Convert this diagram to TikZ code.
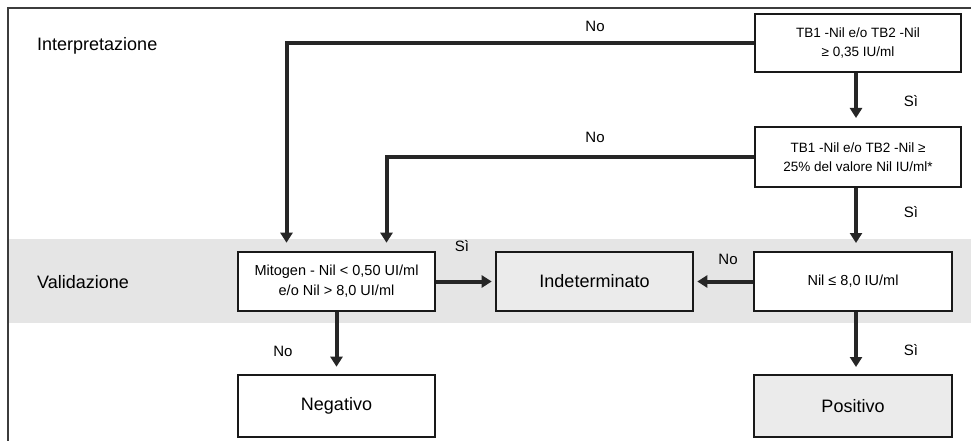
\documentclass[tikz,border=0pt]{standalone}
\usepackage{fontspec}
\setmainfont{Liberation Sans}
\usetikzlibrary{arrows.meta}
\definecolor{band}{RGB}{229,229,229}
\definecolor{boxgray}{RGB}{235,235,235}
\definecolor{frame}{RGB}{60,60,60}
\begin{document}
\begin{tikzpicture}[x=1pt,y=-1pt,
  box/.style={draw=black!90, line width=2.6pt, fill=white, inner sep=0pt, align=center, font=\fontsize{13.5}{19}\selectfont},
  mid/.style={font=\fontsize{14.5}{20}\selectfont},
  big/.style={font=\fontsize{18}{20}\selectfont},
  arr/.style={line width=4pt, draw=black!85, -{Triangle[length=10pt,width=12pt]}},
  lbl/.style={font=\fontsize{15}{17}\selectfont, inner sep=1pt},
  sec/.style={font=\fontsize{18}{20}\selectfont, anchor=west, inner sep=0pt}]
\useasboundingbox (0,0) rectangle (971,441);
\fill[white] (0,0) rectangle (971,441);
\fill[band] (8,239) rectangle (971,323);
\draw[frame, line width=1.8pt] (8,441) -- (8,8) -- (971,8);

\node[sec] (interp) at (37,46) {Interpretazione};
\node[sec] (valid) at (37,282) {Validazione};

\node[box, minimum width=206pt, minimum height=58pt] (b1) at (858,43) {TB1 -Nil e/o TB2 -Nil\\≥ 0,35 IU/ml};
\node[box, minimum width=206pt, minimum height=60pt] (b2) at (858,157) {TB1 -Nil e/o TB2 -Nil ≥\\25\% del valore Nil IU/ml*};
\node[box, mid, minimum width=198pt, minimum height=59pt] (b3) at (853,281.5) {Nil ≤ 8,0 IU/ml};
\node[box, fill=boxgray, big, minimum width=197pt, minimum height=59pt] (ind) at (594.5,281.5) {Indeterminato};
\node[box, mid, minimum width=197pt, minimum height=59pt] (mit) at (336.5,281.5) {Mitogen - Nil < 0,50 UI/ml\\e/o Nil > 8,0 UI/ml};
\node[box, big, minimum width=197pt, minimum height=62pt] (neg) at (336.5,406) {Negativo};
\node[box, fill=boxgray, big, minimum width=198pt, minimum height=62pt] (pos) at (853,406) {Positivo};

\draw[arr, shorten >=8pt] (856,73) -- (856,126);
\draw[arr, shorten >=8pt] (856,188) -- (856,251);
\draw[arr, shorten >=7pt] (856,312) -- (856,374);
\draw[arr, shorten >=7pt] (mit.south) -- (neg.north);
\draw[arr, shorten >=3pt] (b3.west) -- (ind.east);
\draw[arr, shorten >=3pt] (mit.east) -- (ind.west);
\draw[arr, shorten >=8pt] (b1.west) -| ([xshift=-50pt]mit.north);
\draw[arr, shorten >=8pt] (b2.west) -| ([xshift=50pt]mit.north);

\node[lbl] (l1) at (595,26) {No};
\node[lbl] (l2) at (595,137) {No};
\node[lbl] (l3) at (911,101) {Sì};
\node[lbl] (l4) at (911,212) {Sì};
\node[lbl] (l5) at (728,259) {No};
\node[lbl] (l6) at (462,246) {Sì};
\node[lbl] (l7) at (283,351) {No};
\node[lbl] (l8) at (911,350) {Sì};
\end{tikzpicture}
\end{document}
